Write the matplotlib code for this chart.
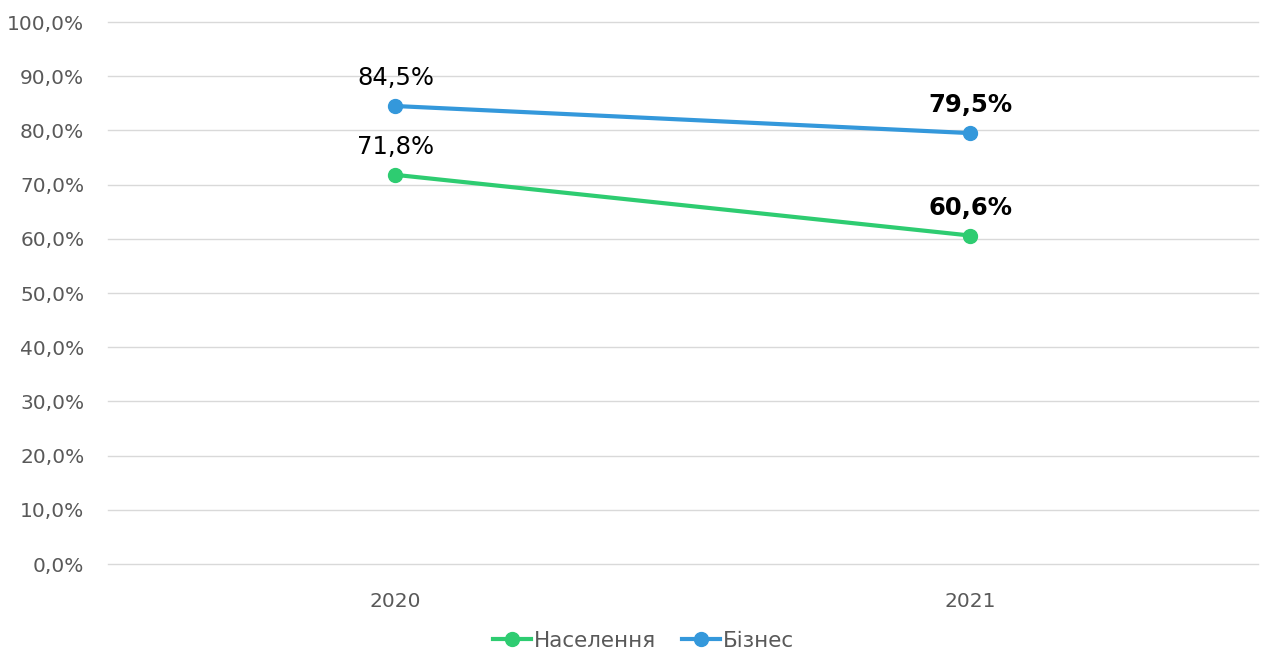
import matplotlib.pyplot as plt
from matplotlib.ticker import FuncFormatter

# дані
years = ['2020', '2021']
naselennia = [71.8, 60.6]
biznes = [84.5, 79.5]
series_names = ['Населення', 'Бізнес']

green = '#2ECC71'
blue = '#3498DB'
grey = '#595959'

fig = plt.figure(figsize=(12.61, 6.55), dpi=100)
ax = fig.add_axes([0.0856, 0.1389, 0.912, 0.8275])

x = range(len(years))
ax.plot(x, naselennia, color=green, lw=3, marker='o', markersize=10, label=series_names[0], zorder=3)
ax.plot(x, biznes, color=blue, lw=3, marker='o', markersize=10, label=series_names[1], zorder=3)

# підписи значень
for i, (n, b) in enumerate(zip(naselennia, biznes)):
    weight = 'bold' if i == 1 else 'normal'
    for v in (n, b):
        ax.annotate(f'{v:.1f}%'.replace('.', ','), (i, v), xytext=(0, 20),
                    textcoords='offset points', ha='center', va='center',
                    fontsize=17.5, color='black', fontweight=weight)

ax.set_xlim(-0.5, 1.5)
ax.set_ylim(0, 100)
ax.set_yticks(range(0, 101, 10))
ax.yaxis.set_major_formatter(FuncFormatter(lambda v, p: f'{v:.1f}%'.replace('.', ',')))
ax.set_xticks(list(x))
ax.set_xticklabels(years)
ax.tick_params(axis='both', length=0, labelsize=14.5, labelcolor=grey)
ax.tick_params(axis='x', pad=20)
ax.tick_params(axis='y', pad=17)
ax.grid(axis='y', color='#D9D9D9', lw=1)
for gl in ax.get_ygridlines():
    gl.set_clip_on(False)
ax.set_axisbelow(True)
for s in ax.spines.values():
    s.set_visible(False)

leg = fig.legend(loc='center', bbox_to_anchor=(0.51, 0.022), ncol=2, frameon=False,
                 fontsize=15.5, handlelength=1.8, handletextpad=0.1, columnspacing=1.2)
for t in leg.get_texts():
    t.set_color(grey)

fig.savefig('out.png', dpi=100)
